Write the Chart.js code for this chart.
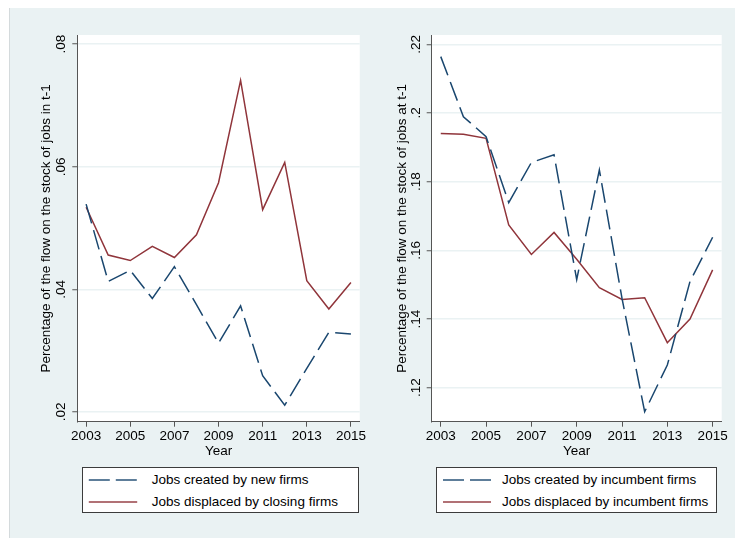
<!DOCTYPE html>
<html>
<head>
<meta charset="utf-8">
<script src="https://cdn.jsdelivr.net/npm/chart.js@4/dist/chart.umd.min.js"></script>
<style>
  html, body { margin: 0; padding: 0; background: #ffffff; }
  body { width: 735px; height: 538px; position: relative; overflow: hidden; font-family: "Liberation Sans", Arial, sans-serif; }
  #bg { position: absolute; left: 9px; top: 8px; width: 726px; height: 530px; background: #eaf2f3; border-left: 1px solid #d4dadc; box-sizing: border-box; }
  canvas { position: absolute; top: 0; }
  .legend { position: absolute; box-sizing: border-box; border: 1px solid #3c3c3c; background: #ffffff; }
  .legend .row { position: absolute; left: 0; height: 20px; font-size: 13.5px; color: #000; white-space: nowrap; }
  .legend svg { position: absolute; }
  .legend span { position: absolute; line-height: 20px; }
</style>
</head>
<body>
<div id="bg"></div>
<canvas id="left" width="367" height="470" style="left:0px"></canvas>
<canvas id="right" width="368" height="470" style="left:367px"></canvas>
<div id="legLeft" class="legend" style="left:82.3px; top:466.7px; width:276.7px; height:46.6px;"></div>
<div id="legRight" class="legend" style="left:436px; top:466.9px; width:280.7px; height:46.4px;"></div>
<script>
// ---- data ----
const years = [2003, 2004, 2005, 2006, 2007, 2008, 2009, 2010, 2011, 2012, 2013, 2014, 2015];
const jobsCreatedNewFirms      = [0.0539, 0.0413, 0.0431, 0.0385, 0.0437, 0.0375, 0.0312, 0.0373, 0.0259, 0.0211, 0.0271, 0.0330, 0.0327];
const jobsDisplacedClosing     = [0.0534, 0.0456, 0.0447, 0.0470, 0.0452, 0.0489, 0.0574, 0.0741, 0.0530, 0.0607, 0.0414, 0.0368, 0.0411];
const jobsCreatedIncumbent     = [0.2164, 0.1989, 0.1931, 0.1739, 0.1856, 0.1878, 0.1515, 0.1834, 0.1460, 0.1130, 0.1266, 0.1509, 0.1638];
const jobsDisplacedIncumbent   = [0.1940, 0.1938, 0.1926, 0.1674, 0.1588, 0.1652, 0.1574, 0.1491, 0.1457, 0.1462, 0.1331, 0.1400, 0.1543];
const xTickYears = [2003, 2005, 2007, 2009, 2011, 2013, 2015];
const leftYTicks = [0.02, 0.04, 0.06, 0.08];
const rightYTicks = [0.12, 0.14, 0.16, 0.18, 0.20, 0.22];
const leftLabels = ['Jobs created by new firms', 'Jobs displaced by closing firms'];
const rightLabels = ['Jobs created by incumbent firms', 'Jobs displaced by incumbent firms'];
const leftYTitle = 'Percentage of the flow on the stock of jobs in t-1';
const rightYTitle = 'Percentage of the flow on the stock of jobs at t-1';
const xTitle = 'Year';

// ---- styles ----
const NAVY = '#1a476f';
const MAROON = '#90353b';
const FONT = '"Liberation Sans", Arial, sans-serif';
const DASH = [20, 7];

function fmt(v) {
  return String(Number(v.toFixed(2))).replace(/^0\./, '.');
}

const plotBg = {
  id: 'plotBg',
  beforeDraw(chart) {
    const {ctx, chartArea: a} = chart;
    ctx.save();
    ctx.fillStyle = '#ffffff';
    ctx.fillRect(a.left, a.top, a.right - a.left, a.bottom - a.top);
    ctx.restore();
  }
};

function toXY(vals) { return years.map((y, i) => ({x: y, y: vals[i]})); }

function makeChart(id, createdVals, displacedVals, labels, yTicks, yMin, yMax, yTitle, o) {
  return new Chart(document.getElementById(id), {
    type: 'line',
    data: {
      datasets: [
        { label: labels[0], data: toXY(createdVals), borderColor: NAVY, borderWidth: 1.5, borderDash: DASH, pointRadius: 0, tension: 0, fill: false },
        { label: labels[1], data: toXY(displacedVals), borderColor: MAROON, borderWidth: 1.5, pointRadius: 0, tension: 0, fill: false }
      ]
    },
    options: {
      responsive: false,
      animation: false,
      events: [],
      layout: { padding: { left: 0, top: 35, right: o.padRight, bottom: 0 } },
      plugins: { legend: { display: false }, tooltip: { enabled: false } },
      scales: {
        x: {
          type: 'linear',
          min: 2002.6, max: 2015.4,
          afterBuildTicks(s) { s.ticks = xTickYears.map(v => ({value: v})); },
          afterFit(s) { s.height = 48.3; },
          grid: { display: true, drawOnChartArea: false, tickLength: 5, tickColor: '#555', tickWidth: 1 },
          border: { display: true, color: '#555', width: 1 },
          ticks: { autoSkip: false, minRotation: 0, maxRotation: 0, padding: 1, color: '#000', font: { family: FONT, size: 13.5 }, callback: v => String(v) },
          title: { display: true, text: xTitle, color: '#000', font: { family: FONT, size: 13.5 }, padding: { top: 0, bottom: 10.2 } }
        },
        y: {
          type: 'linear',
          min: yMin, max: yMax,
          afterBuildTicks(s) { s.ticks = yTicks.map(v => ({value: v})); },
          afterFit(s) { s.width = o.yWidth; },
          grid: { display: true, drawOnChartArea: true, color: '#eaf2f3', lineWidth: 1.5, tickLength: 5, tickColor: '#555', tickWidth: 1 },
          border: { display: true, color: '#555', width: 1 },
          ticks: { autoSkip: false, minRotation: 90, maxRotation: 90, crossAlign: 'center', padding: o.tickPad, color: '#000', font: { family: FONT, size: 13.5 }, callback: v => fmt(v) },
          title: { display: true, text: yTitle, color: '#000', font: { family: FONT, size: 13.5 }, padding: { top: o.titlePad, bottom: 0 } }
        }
      }
    },
    plugins: [plotBg]
  });
}

const cL = makeChart('left', jobsCreatedNewFirms, jobsDisplacedClosing, leftLabels, leftYTicks, 0.0184, 0.0815, leftYTitle,
  { padRight: 2, yWidth: 77.3, titlePad: 37.9, tickPad: 2 });
const cR = makeChart('right', jobsCreatedIncumbent, jobsDisplacedIncumbent, rightLabels, rightYTicks, 0.1101, 0.2227, rightYTitle,
  { padRight: 13.3, yWidth: 64.7, titlePad: 27.4, tickPad: 1.5 });

// ---- legends built from the chart datasets ----
function buildLegend(divId, chart, sampleX0, sampleX1, textX) {
  const div = document.getElementById(divId);
  const rowsY = [13.5 - 10, 35 - 10];
  chart.data.datasets.forEach((ds, i) => {
    const row = document.createElement('div');
    row.className = 'row';
    row.style.top = (rowsY[i] - 1) + 'px';
    row.style.width = '100%';
    const svg = document.createElementNS('http://www.w3.org/2000/svg', 'svg');
    svg.setAttribute('width', sampleX1 + 2);
    svg.setAttribute('height', 20);
    svg.style.left = '0px';
    svg.style.top = '0px';
    const ln = document.createElementNS('http://www.w3.org/2000/svg', 'line');
    ln.setAttribute('x1', sampleX0); ln.setAttribute('x2', sampleX1);
    ln.setAttribute('y1', 10); ln.setAttribute('y2', 10);
    ln.setAttribute('stroke', ds.borderColor);
    ln.setAttribute('stroke-opacity', 0.7);
    ln.setAttribute('stroke-width', 2);
    if (ds.borderDash) ln.setAttribute('stroke-dasharray', '21 6');
    svg.appendChild(ln);
    row.appendChild(svg);
    const sp = document.createElement('span');
    sp.textContent = ds.label;
    sp.style.left = textX + 'px';
    sp.style.top = '0px';
    row.appendChild(sp);
    div.appendChild(row);
  });
}
buildLegend('legLeft', cL, 5.8, 54.2, 68.5);
buildLegend('legRight', cR, 6, 54, 65);
</script>
</body>
</html>
